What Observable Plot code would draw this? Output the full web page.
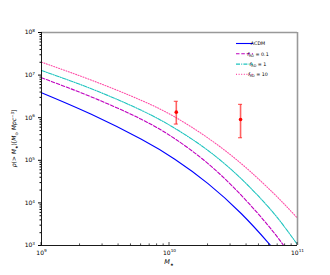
<!DOCTYPE html>
<html>
<head>
<meta charset="utf-8">
<script src="https://cdn.jsdelivr.net/npm/d3@7"></script>
<script src="https://cdn.jsdelivr.net/npm/@observablehq/plot@0.6"></script>
<style>
  html, body { margin: 0; padding: 0; background: #fff; }
  svg { font-family: "DejaVu Sans", sans-serif; }
</style>
</head>
<body>
<div id="chart"></div>
<script>
// Stellar mass grid (M_sun)
const mass = [1e9, 2.45e9, 6.03e9, 1.10e10, 2.0e10, 3.63e10, 5.89e10, 7.76e10, 1e11];
// Cumulative density rho(>M*) [M_sun Mpc^-3]
const rhoLCDM = [3.85e6, 1.20e6, 3.11e5, 1.06e5, 2.84e4, 5.64e3, 1.17e3, 437, null];
const rhoF01  = [8.65e6, 3.08e6, 9.16e5, 3.21e5, 8.36e4, 1.52e4, 2.96e3, 1.02e3, 355];
const rhoF1   = [1.28e7, 4.78e6, 1.49e6, 5.64e5, 1.70e5, 3.70e4, 8.15e3, 2.96e3, 1.05e3];
const rhoF10  = [2.01e7, 7.62e6, 2.55e6, 1.04e6, 3.33e5, 8.39e4, 2.24e4, 9.84e3, 4.38e3];
// Observed points with error bars
const obsMass = [1.13e10, 3.59e10];
const obsRho  = [1.35e6, 9.1e5];
const obsHi   = [2.36e6, 2.0e6];
const obsLo   = [6.9e5, 3.3e5];
// Axis ticks (label = "10" with exponent)
const yMajor = [1e3, 1e4, 1e5, 1e6, 1e7, 1e8];
const yMajorExp = ["3", "4", "5", "6", "7", "8"];
const xMajor = [1e9, 1e10, 1e11];
const xMajorExp = ["9", "10", "11"];

const series = [
  {key: "LCDM", vals: rhoLCDM, color: "#0000ff", dash: null},
  {key: "f01", vals: rhoF01, color: "#bf00bf", dash: "3.5,1.8"},
  {key: "f1", vals: rhoF1, color: "#1fc4bf", dash: "4,1.2,1,1.2"},
  {key: "f10", vals: rhoF10, color: "#ff4fa8", dash: "1,1.6"}
];
const table = series.flatMap(s => mass.map((m, i) => ({m, rho: s.vals[i], key: s.key})));
const obs = obsMass.map((m, i) => ({m, rho: obsRho[i], hi: obsHi[i], lo: obsLo[i]}));

const minor = (decs) => decs.slice(0, -1).flatMap(d => d3.range(2, 10).map(k => k * d));
const idx = (arr, d) => arr.findIndex(v => Math.abs(v - d) / v < 1e-6);
const fmtY = d => "10^" + yMajorExp[idx(yMajor, d)];
const fmtX = d => "10^" + xMajorExp[idx(xMajor, d)];

const W = 330, H = 275;
const plot = Plot.plot({
  width: W, height: H,
  marginLeft: 41, marginRight: 33, marginTop: 32, marginBottom: 30,
  style: {fontFamily: "DejaVu Sans, sans-serif", fontSize: "6px", color: "#000", background: "#fff"},
  x: {type: "log", domain: [1e9, 1e11]},
  y: {type: "log", domain: [1e3, 1e8]},
  marks: [
    ...series.map(s => Plot.line(table.filter(d => d.key === s.key), {
      x: "m", y: "rho", stroke: s.color, strokeWidth: 1.1,
      strokeDasharray: s.dash, curve: "natural", clip: true
    })),
    Plot.ruleX(obs, {x: "m", y1: "lo", y2: "hi", stroke: "#ff2020", strokeOpacity: 0.7, strokeWidth: 1.6}),
    Plot.dot(obs, {x: "m", y: "rho", fill: "#ff0000", r: 1.8, stroke: null}),
    Plot.ruleY([1e8], {stroke: "#999", strokeWidth: 1.6}),
    Plot.ruleX([1e11], {stroke: "#999", strokeWidth: 1.6}),
    Plot.ruleY([1e3], {stroke: "#000", strokeWidth: 0.9}),
    Plot.ruleX([1e9], {stroke: "#000", strokeWidth: 0.9}),
    Plot.axisY({ticks: yMajor, anchor: "left", tickSize: 3, tickPadding: 3.5, tickFormat: fmtY, label: null}),
    Plot.axisY({ticks: minor(yMajor), anchor: "left", tickSize: 1.5, tickFormat: () => "", label: null}),
    Plot.axisX({ticks: xMajor, anchor: "bottom", tickSize: 0, tickPadding: 5, tickFormat: fmtX, label: null})
  ]
});
document.getElementById("chart").appendChild(plot);

const svg = d3.select(plot);
// turn "10^k" tick labels into base + superscript tspans
svg.selectAll("text").each(function() {
  const s = this.textContent;
  if (!/^10\^\d+$/.test(s)) return;
  const [base, exp] = s.split("^");
  const t = d3.select(this);
  t.text(null);
  t.append("tspan").text(base);
  t.append("tspan").attr("font-size", "4.2px").attr("dy", "-0.55em").text(exp);
});

const L = 41, R = W - 33, T = 32, B = H - 30;
const xs = d3.scaleLog().domain([1e9, 1e11]).range([L, R]);
const ys = d3.scaleLog().domain([1e3, 1e8]).range([B, T]);

// error bar caps
const caps = svg.append("g");
obs.forEach(o => {
  [o.hi, o.lo].forEach(v => {
    caps.append("line").attr("x1", xs(o.m) - 2).attr("x2", xs(o.m) + 2)
      .attr("y1", ys(v)).attr("y2", ys(v))
      .attr("stroke", "#ff2020").attr("stroke-opacity", 0.7).attr("stroke-width", 1.2);
  });
});

// bottom inward ticks
const bt = svg.append("g").attr("stroke", "#000").attr("stroke-width", 0.7);
xMajor.forEach(v => bt.append("line").attr("x1", xs(v)).attr("x2", xs(v)).attr("y1", B).attr("y2", B - 3));
minor(xMajor).forEach(v => bt.append("line").attr("x1", xs(v)).attr("x2", xs(v)).attr("y1", B).attr("y2", B - 1.6));

// legend
const leg = svg.append("g").attr("font-size", "4.8px").attr("font-family", "DejaVu Sans, sans-serif");
const legRows = [
  {s: series[0], label: [["ΛCDM", null]]},
  {s: series[1], label: [["f", "it"], ["RD", "sub"], [" = 0.1", null]]},
  {s: series[2], label: [["f", "it"], ["RD", "sub"], [" = 1", null]]},
  {s: series[3], label: [["f", "it"], ["RD", "sub"], [" = 10", null]]}
];
legRows.forEach((r, i) => {
  const y = 43.5 + i * 10.3;
  leg.append("line").attr("x1", 236).attr("x2", 253).attr("y1", y).attr("y2", y)
    .attr("stroke", r.s.color).attr("stroke-width", 1.1).attr("stroke-dasharray", r.s.dash);
  const t = leg.append("text").attr("x", 258).attr("y", y + 1.8);
  r.label.forEach(([txt, st]) => {
    const sp = t.append("tspan").text(txt);
    if (st === "it") sp.attr("font-style", "italic");
    if (st === "sub") sp.attr("font-size", "3.4px").attr("dy", 1);
    if (st === null && r.label.length > 1) sp.attr("dy", -1);
  });
});

// x label
const xl = svg.append("text").attr("x", (L + R) / 2).attr("y", 264).attr("text-anchor", "middle")
  .attr("font-size", "6.5px");
xl.append("tspan").attr("font-style", "italic").text("M");
xl.append("tspan").attr("font-size", "4.2px").attr("dy", 1.5).text("★");

// y label
const yl = svg.append("text").attr("transform", `translate(16,${(T + B) / 2}) rotate(-90)`)
  .attr("text-anchor", "middle").attr("font-size", "6px");
yl.append("tspan").attr("font-style", "italic").text("ρ");
yl.append("tspan").text("(> ");
yl.append("tspan").attr("font-style", "italic").text("M");
yl.append("tspan").attr("font-size", "4px").attr("dy", 1.5).text("★");
yl.append("tspan").attr("dy", -1.5).text(")[");
yl.append("tspan").attr("font-style", "italic").text("M");
yl.append("tspan").attr("font-size", "4px").attr("dy", 1.5).text("⊙");
yl.append("tspan").attr("dy", -1.5).text(" ");
yl.append("tspan").attr("font-style", "italic").text("Mpc");
yl.append("tspan").attr("font-size", "4px").attr("dy", -2.5).text("−3");
yl.append("tspan").attr("dy", 2.5).text("]");
</script>
</body>
</html>
